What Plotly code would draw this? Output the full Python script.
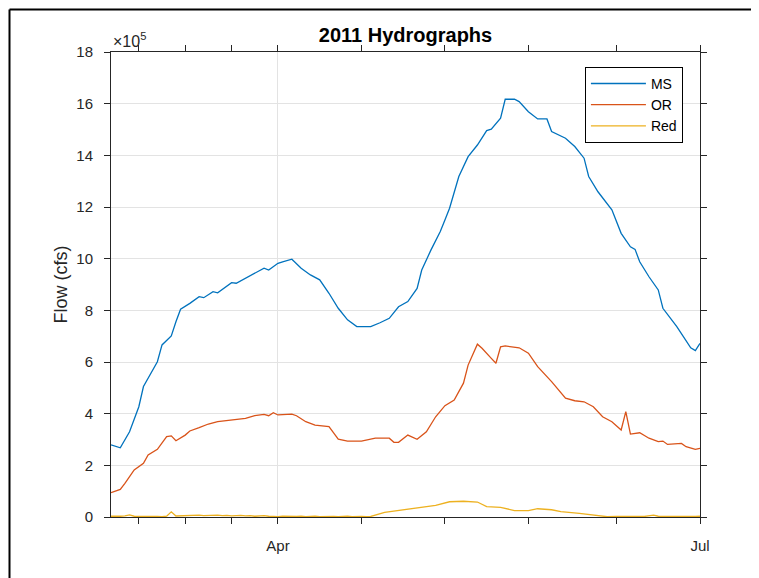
import pandas as pd
import plotly.graph_objects as go

START = "2011-02-24"

# MS (Mississippi) flow, x1e5 cfs, at day offsets from START
ms_days = [0,2,4,6,7,9,10,11,13,14,15,17,19,20,22,23,26,27,31,33,34,36,37,39,41,43,45,47,49,51,53,56,58,60,62,64,66,67,69,71,72,73,75,77,79,81,82,84,85,87,88,90,92,94,95,98,100,102,103,105,108,110,112,113,114,116,118,119,122,124,125,126,127]
ms_vals = [2.79,2.68,3.30,4.27,5.05,5.69,6.01,6.66,7.01,7.56,8.04,8.27,8.53,8.49,8.72,8.68,9.07,9.05,9.43,9.63,9.56,9.82,9.88,9.98,9.63,9.37,9.18,8.66,8.08,7.63,7.37,7.37,7.52,7.69,8.14,8.34,8.85,9.56,10.34,11.05,11.50,11.95,13.18,13.95,14.40,14.96,15.01,15.44,16.17,16.17,16.08,15.69,15.41,15.41,14.92,14.66,14.34,13.89,13.18,12.59,11.89,10.98,10.46,10.36,9.88,9.30,8.79,8.08,7.37,6.79,6.55,6.44,6.72]

# OR (Old River) flow, x1e5 cfs
or_days = [0,2,3,5,7,8,10,11,12,13,14,16,17,19,21,23,25,29,31,33,34,35,36,39,40,42,44,47,48,49,51,54,57,60,61,62,64,66,68,70,72,74,76,77,79,80,82,83,84,85,88,90,92,95,98,100,102,104,106,108,110,111,112,114,116,118,119,120,123,124,126,127]
or_vals = [0.94,1.07,1.30,1.82,2.08,2.40,2.62,2.88,3.11,3.14,2.95,3.17,3.33,3.46,3.60,3.69,3.73,3.82,3.92,3.97,3.92,4.04,3.95,3.98,3.92,3.69,3.56,3.50,3.26,3.01,2.94,2.94,3.05,3.05,2.89,2.89,3.17,3.01,3.30,3.88,4.31,4.53,5.18,5.88,6.69,6.53,6.14,5.95,6.59,6.62,6.55,6.34,5.82,5.24,4.60,4.50,4.46,4.27,3.88,3.69,3.37,4.08,3.21,3.26,3.05,2.92,2.94,2.81,2.85,2.72,2.62,2.66]

# Red River flow, x1e5 cfs
red_days = list(range(0, 56)) + [56,59,62,66,70,73,76,79,81,84,87,90,92,95,97,101,105,107,109,111,113,115,117,118,120,122,124,126,127]
red_vals = ([0.03,0.02,0.03,0.04,0.08,
             0.03,0.02,0.02,0.03,0.02,0.02,0.01,0.03,
             0.20,0.04,
             0.05,0.06,0.05,0.06,0.07,0.05,0.06,0.05,0.07,0.05,0.06,0.04,0.05,0.06,0.04,0.05,0.03,0.04,0.05,0.03,
             0.02,0.01,0.03,0.02,0.01,0.02,0.03,0.01,0.02,0.03,0.01,0.02,0.03,0.02,0.01,0.02,0.03,0.01,0.02,0.02,0.01]
            + [0.02,0.18,0.26,0.36,0.45,0.59,0.61,0.58,0.40,0.37,0.25,0.25,0.32,0.28,0.21,0.14,0.05,0.01,0.02,0.01,0.02,0.02,0.07,0.03,0.02,0.03,0.02,0.02,0.03])

series = [("MS", ms_days, ms_vals, "#0072BD"),
          ("OR", or_days, or_vals, "#D95319"),
          ("Red", red_days, red_vals, "#EDB120")]

y_ticks = list(range(0, 20, 2))
major_dates = ["2011-04-01", "2011-07-01"]
major_labels = ["Apr", "Jul"]
minor_dates = ["2011-03-02", "2011-03-12", "2011-03-22", "2011-04-19",
               "2011-05-07", "2011-05-25", "2011-06-13"]

base = pd.Timestamp(START)
fig = go.Figure()
for name, days, vals, color in series:
    x = base + pd.to_timedelta(days, unit="D")
    fig.add_trace(go.Scatter(x=x, y=[v * 1e5 for v in vals], mode="lines", name=name,
                             line=dict(color=color, width=1.3)))

axcol = "#262626"
FONT = "Liberation Sans, Arial, sans-serif"
# page body has an 8px offset, compensate in margins
L, T, PW, PH = 103, 44, 589, 465
fig.update_layout(
    width=759, height=578,
    margin=dict(l=L, r=759 - L - PW, t=T, b=578 - T - PH),
    paper_bgcolor="white", plot_bgcolor="white",
    font=dict(family=FONT, size=15, color=axcol),
    title=dict(text="<b>2011 Hydrographs</b>", x=(L + PW / 2) / 759, xanchor="center",
               y=1 - 27 / 578, yanchor="middle", font=dict(size=20, color="black")),
    showlegend=True,
    legend=dict(x=0.971, xanchor="right", y=0.968, yanchor="top",
                bgcolor="white", bordercolor="black", borderwidth=1,
                font=dict(size=14, color="black"), tracegroupgap=0,
                itemwidth=55),
    xaxis=dict(type="date", range=[START, "2011-07-01"],
               tickmode="array", tickvals=major_dates, ticktext=major_labels,
               ticks="outside", ticklen=6, tickcolor=axcol, tickwidth=1,
               showline=True, linecolor=axcol, linewidth=1, mirror="ticks",
               showgrid=True, gridcolor="#e3e3e3", gridwidth=1, zeroline=False,
               ticklabelstandoff=9,
               minor=dict(tickmode="array", tickvals=minor_dates, ticks="outside",
                          ticklen=6, tickcolor=axcol, showgrid=False)),
    yaxis=dict(range=[0, 1.8e6], tickmode="array",
               tickvals=[t * 1e5 for t in y_ticks], ticktext=[str(t) for t in y_ticks],
               ticks="outside", ticklen=6, tickcolor=axcol, tickwidth=1,
               showline=True, linecolor=axcol, linewidth=1, mirror="ticks",
               showgrid=True, gridcolor="#e3e3e3", gridwidth=1, zeroline=False,
               ticklabelstandoff=8),
)

fig.add_annotation(text="Flow (cfs)", xref="paper", yref="paper",
                   x=(60 - 111) / PW, y=0.5, textangle=-90, showarrow=False,
                   xanchor="center", yanchor="middle", font=dict(size=18, color=axcol))
fig.add_annotation(text="×10<sup>5</sup>", xref="paper", yref="paper",
                   x=0.0, y=1.0, xanchor="left", yanchor="bottom", showarrow=False,
                   font=dict(size=16, color=axcol))

# outer figure frame (top and left edges)
fx = (9.5 - 111) / PW
fy = (517 - 9.5) / PH
fig.add_shape(type="line", xref="paper", yref="paper", x0=fx, x1=1.2, y0=fy, y1=fy,
              line=dict(color="black", width=2))
fig.add_shape(type="line", xref="paper", yref="paper", x0=fx, x1=fx, y0=fy, y1=-0.2,
              line=dict(color="black", width=2))

fig.write_html("out.html")
